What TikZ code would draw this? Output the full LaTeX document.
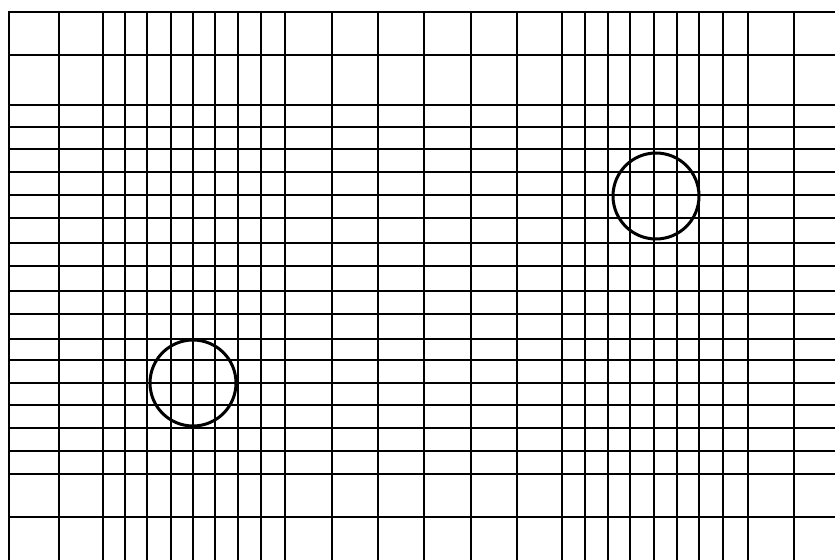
\documentclass[tikz,border=0pt]{standalone}
\begin{document}
\begin{tikzpicture}[x=1bp,y=-1bp,
  gridline/.style={line width=1.8bp,black,line cap=rect},
  hline/.style={line width=2.1bp,black,line cap=rect},
  ring/.style={line width=3bp,black}]
\useasboundingbox[fill=white] (0,0) rectangle (835,560);
% vertical lines
\foreach \x in {9,59,103,125,147,171,193,215,238,261,285,332,378,424,471,517,562,585,608,630,654,677,699,723,748,794}
  \draw[gridline] (\x,12) -- (\x,560);
% horizontal lines
\foreach \y in {12,55,105,127,149,172,195,218,243,266,291,314,339,360,383,405,428,451,474,517}
  \draw[hline] (9,\y) -- (835,\y);
% circles
\draw[ring] (656,196) circle[radius=43];
\draw[ring] (193,383) circle[radius=43];
\end{tikzpicture}
\end{document}
